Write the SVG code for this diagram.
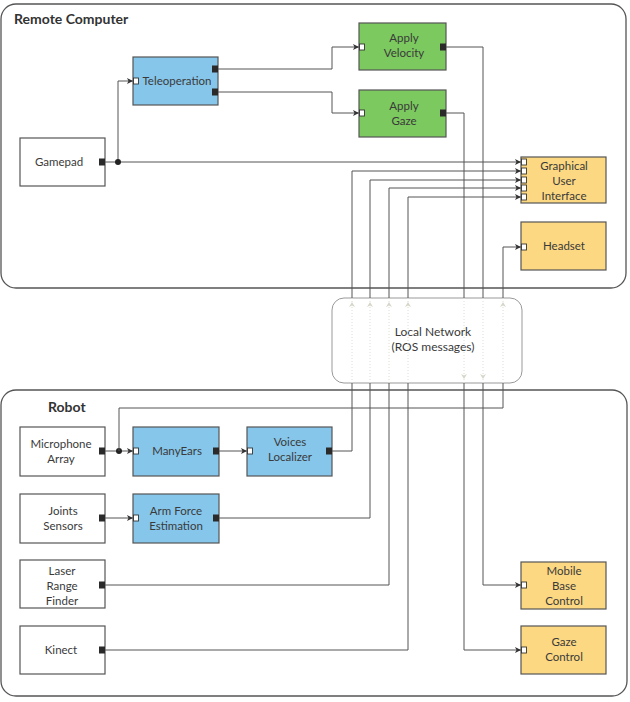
<svg xmlns="http://www.w3.org/2000/svg" width="630" height="702" viewBox="0 0 630 702">
<defs>
<style>
.container{fill:#fff;stroke:#555;stroke-width:1.3}
.title{font-family:Lato,"Open Sans",sans-serif;font-size:14px;font-weight:bold;fill:#333}
.box{stroke:#555;stroke-width:1.2}
.white{fill:#fff}
.blue{fill:#86C6EA}
.green{fill:#7CC95F}
.yellow{fill:#FDD882}
.lbl{font-family:Lato,"Open Sans",sans-serif;font-size:11.5px;fill:#3a3a3a;text-anchor:middle}
.inp{fill:#fff;stroke:#333;stroke-width:0.9}
.out{fill:#2a2a2a}
.wire{fill:none;stroke:#555;stroke-width:1}
.arr{fill:none;stroke:#555;stroke-width:1;marker-end:url(#ah)}
.faint{fill:none;stroke:#ddddd4;stroke-width:1;stroke-dasharray:1 2}
.fa{fill:#d6d6c8}
.net{fill:#fff;stroke:#999;stroke-width:1}
</style>
<marker id="ah" markerWidth="7" markerHeight="6" refX="6" refY="3" orient="auto" markerUnits="userSpaceOnUse">
<path d="M0,0 L6,3 L0,6 L1.5,3 Z" fill="#333"/>
</marker>
</defs>

<g id="remote-computer">
<rect class="container" x="1" y="4" width="625" height="284" rx="15"/>
<text class="title" x="14" y="24">Remote Computer</text>
</g>
<g id="robot">
<rect class="container" x="1" y="390" width="626" height="306" rx="15"/>
<text class="title" x="48" y="412">Robot</text>
</g>

<g id="local-network">
<rect class="net" x="332" y="298" width="190" height="85" rx="12"/>
<text class="lbl" x="433" y="336" style="font-size:12px">Local Network</text>
<text class="lbl" x="433" y="351" style="font-size:12px">(ROS messages)</text>
</g>

<g id="connectors">
<!-- Gamepad -->
<path class="arr" d="M105,162 H118 V81 H133"/>
<path class="arr" d="M118,162 H521"/>
<circle cx="118" cy="162" r="3" fill="#222"/>
<!-- Teleoperation -->
<path class="arr" d="M218,69 H332 V47 H359"/>
<path class="arr" d="M218,92 H332 V113 H359"/>
<!-- Apply Velocity to Mobile Base Control -->
<path class="wire" d="M446,47 H483 V298"/>
<path class="faint" d="M483,298 V383"/>
<path class="fa" d="M480,374 L483,379 L486,374 L483,375.5 Z"/>
<path class="arr" d="M483,383 V585 H521"/>
<!-- Apply Gaze to Gaze Control -->
<path class="wire" d="M446,113 H464 V298"/>
<path class="faint" d="M464,298 V383"/>
<path class="fa" d="M461,374 L464,379 L467,374 L464,375.5 Z"/>
<path class="arr" d="M464,383 V650 H521"/>
<!-- Microphone Array -->
<path class="wire" d="M105,451 H119"/>
<path class="arr" d="M119,451 H133"/>
<circle cx="119" cy="451" r="3" fill="#222"/>
<path class="wire" d="M119,451 V408 H503 V383"/>
<path class="faint" d="M503,383 V298"/>
<path class="fa" d="M500,307 L503,302 L506,307 L503,305.5 Z"/>
<path class="arr" d="M503,298 V247 H521"/>
<!-- ManyEars to Voices Localizer -->
<path class="arr" d="M219,451 H247"/>
<!-- Voices Localizer to GUI -->
<path class="wire" d="M332,451 H352 V383"/>
<path class="faint" d="M352,383 V298"/>
<path class="fa" d="M349,307 L352,302 L355,307 L352,305.5 Z"/>
<path class="arr" d="M352,298 V171 H521"/>
<!-- Joints Sensors to Arm Force -->
<path class="arr" d="M105,518 H133"/>
<!-- Arm Force to GUI -->
<path class="wire" d="M219,518 H370 V383"/>
<path class="faint" d="M370,383 V298"/>
<path class="fa" d="M367,307 L370,302 L373,307 L370,305.5 Z"/>
<path class="arr" d="M370,298 V180 H521"/>
<!-- Laser to GUI -->
<path class="wire" d="M105,585 H389 V383"/>
<path class="faint" d="M389,383 V298"/>
<path class="fa" d="M386,307 L389,302 L392,307 L389,305.5 Z"/>
<path class="arr" d="M389,298 V188 H521"/>
<!-- Kinect to GUI -->
<path class="wire" d="M105,650 H408 V383"/>
<path class="faint" d="M408,383 V298"/>
<path class="fa" d="M405,307 L408,302 L411,307 L408,305.5 Z"/>
<path class="arr" d="M408,298 V197 H521"/>
</g>

<g id="teleoperation">
<rect class="box blue" x="133" y="57" width="85" height="48"/>
<rect class="inp" x="133.5" y="78" width="5" height="6"/>
<rect class="out" x="212" y="65.5" width="6" height="7"/>
<rect class="out" x="212" y="88.5" width="6" height="7"/>
<text class="lbl" x="177" y="85">Teleoperation</text>
</g>
<g id="gamepad">
<rect class="box white" x="20" y="138" width="85" height="48"/>
<rect class="out" x="99" y="158.5" width="6" height="7"/>
<text class="lbl" x="59" y="166">Gamepad</text>
</g>
<g id="apply-velocity">
<rect class="box green" x="359" y="23" width="87" height="47"/>
<rect class="inp" x="359.5" y="44" width="5" height="6"/>
<rect class="out" x="440" y="43.5" width="6" height="7"/>
<text class="lbl" x="404" y="42">Apply</text>
<text class="lbl" x="404" y="57">Velocity</text>
</g>
<g id="apply-gaze">
<rect class="box green" x="359" y="90" width="87" height="47"/>
<rect class="inp" x="359.5" y="110" width="5" height="6"/>
<rect class="out" x="440" y="109.5" width="6" height="7"/>
<text class="lbl" x="404" y="110">Apply</text>
<text class="lbl" x="404" y="125">Gaze</text>
</g>
<g id="gui">
<rect class="box yellow" x="521" y="157" width="85" height="46"/>
<rect class="inp" x="521.5" y="159" width="5" height="6"/>
<rect class="inp" x="521.5" y="168" width="5" height="6"/>
<rect class="inp" x="521.5" y="177" width="5" height="6"/>
<rect class="inp" x="521.5" y="185" width="5" height="6"/>
<rect class="inp" x="521.5" y="194" width="5" height="6"/>
<text class="lbl" x="564" y="170">Graphical</text>
<text class="lbl" x="564" y="185">User</text>
<text class="lbl" x="564" y="200">Interface</text>
</g>
<g id="headset">
<rect class="box yellow" x="521" y="222" width="85" height="48"/>
<rect class="inp" x="521.5" y="244" width="5" height="6"/>
<text class="lbl" x="564" y="250">Headset</text>
</g>
<g id="microphone-array">
<rect class="box white" x="20" y="427" width="85" height="49"/>
<rect class="out" x="99" y="447.5" width="6" height="7"/>
<text class="lbl" x="61" y="448">Microphone</text>
<text class="lbl" x="61" y="463">Array</text>
</g>
<g id="manyears">
<rect class="box blue" x="133" y="427" width="86" height="49"/>
<rect class="inp" x="133.5" y="448" width="5" height="6"/>
<rect class="out" x="213" y="447.5" width="6" height="7"/>
<text class="lbl" x="177" y="455">ManyEars</text>
</g>
<g id="voices-localizer">
<rect class="box blue" x="247" y="427" width="85" height="49"/>
<rect class="inp" x="247.5" y="448" width="5" height="6"/>
<rect class="out" x="326" y="447.5" width="6" height="7"/>
<text class="lbl" x="290" y="446">Voices</text>
<text class="lbl" x="290" y="461">Localizer</text>
</g>
<g id="joints-sensors">
<rect class="box white" x="20" y="494" width="85" height="49"/>
<rect class="out" x="99" y="514.5" width="6" height="7"/>
<text class="lbl" x="63" y="515">Joints</text>
<text class="lbl" x="63" y="530">Sensors</text>
</g>
<g id="arm-force-estimation">
<rect class="box blue" x="133" y="494" width="86" height="49"/>
<rect class="inp" x="133.5" y="515" width="5" height="6"/>
<rect class="out" x="213" y="514.5" width="6" height="7"/>
<text class="lbl" x="176" y="515">Arm Force</text>
<text class="lbl" x="176" y="530">Estimation</text>
</g>
<g id="laser-range-finder">
<rect class="box white" x="20" y="560" width="85" height="48"/>
<rect class="out" x="99" y="581.5" width="6" height="7"/>
<text class="lbl" x="62" y="575">Laser</text>
<text class="lbl" x="62" y="590">Range</text>
<text class="lbl" x="62" y="605">Finder</text>
</g>
<g id="kinect">
<rect class="box white" x="20" y="626" width="85" height="48"/>
<rect class="out" x="99" y="646.5" width="6" height="7"/>
<text class="lbl" x="61" y="654">Kinect</text>
</g>
<g id="mobile-base-control">
<rect class="box yellow" x="521" y="562" width="85" height="47"/>
<rect class="inp" x="521.5" y="582" width="5" height="6"/>
<text class="lbl" x="564" y="575">Mobile</text>
<text class="lbl" x="564" y="590">Base</text>
<text class="lbl" x="564" y="605">Control</text>
</g>
<g id="gaze-control">
<rect class="box yellow" x="521" y="626" width="85" height="48"/>
<rect class="inp" x="521.5" y="647" width="5" height="6"/>
<text class="lbl" x="564" y="646">Gaze</text>
<text class="lbl" x="564" y="661">Control</text>
</g>
</svg>
